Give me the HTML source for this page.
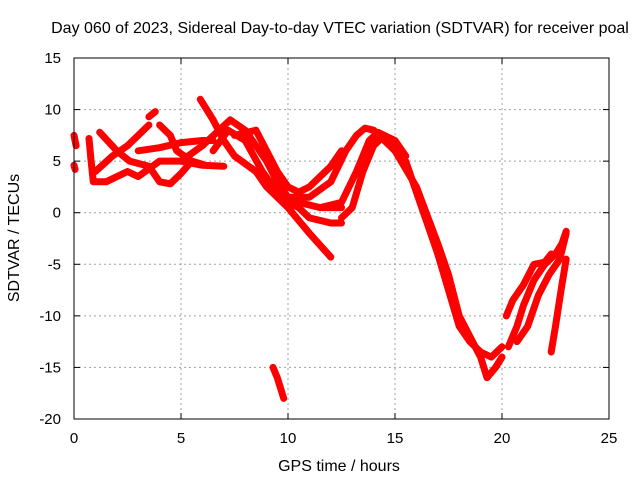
<!DOCTYPE html>
<html><head><meta charset="utf-8"><style>
body{margin:0;background:#fff}
svg{display:block;font-family:"Liberation Sans",sans-serif}
</style></head><body>
<svg width="640" height="480" xmlns="http://www.w3.org/2000/svg">
<rect width="640" height="480" fill="#fff"/>
<text x="340" y="33" font-size="16" text-anchor="middle">Day 060 of 2023, Sidereal Day-to-day VTEC variation (SDTVAR) for receiver poal</text>
<g id="grid"></g>
<g id="series"></g>
<rect x="74" y="58" width="535" height="361" fill="none" stroke="#000" stroke-width="1"/>
<g id="ticks"></g>
<text x="339" y="471" font-size="16" text-anchor="middle">GPS time / hours</text>
<text x="19" y="238" font-size="16" text-anchor="middle" transform="rotate(-90 19 238)">SDTVAR / TECUs</text>
</svg>
<script>
const xTicks=[0,5,10,15,20,25];
const yTicks=[15,10,5,0,-5,-10,-15,-20];
const trackF1=[[0,7.5],[0.1,6.5]];
const trackF1b=[[0,4.6],[0.05,4.2]];
const trackF2=[[0.7,7.2],[0.8,5],[0.9,3],[1.5,3],[2.5,4],[3,3.5],[4,5],[5,5],[6,4.6],[7,4.5]];
const trackF3=[[1.2,7.8],[2,6],[2.6,5],[3.5,4.5],[4,3],[4.5,2.8],[5,3.8],[5.5,5]];
const trackF4=[[1,4],[1.8,5.5],[2.5,6.5],[3,7.5],[3.5,8.5]];
const trackF5=[[3.5,9.3],[3.8,9.8]];
const trackF6=[[3,6],[4,6.3],[5,6.8],[6,7],[6.5,7]];
const trackF7=[[4,8.5],[4.5,7.5],[4.8,6],[5.5,5],[6,4.7]];
const trackP=[[5.9,11],[6.5,9],[7,7],[7.5,5.5],[8.5,4],[9,2.5],[9.5,1.5],[10,0.5],[11,-2],[12,-4.3]];
const trackQ=[[6.5,6],[7.2,8],[8,7],[8.8,4],[9.5,2],[10,1],[10.5,0.5],[11,-0.5],[12,-1],[12.5,-1]];
const trackR=[[5,5],[6,6.5],[7.3,9],[8,8],[9,5],[9.5,3],[10,1.5],[10.5,1],[11.5,0.5],[12.5,0.5]];
const trackS=[[7.5,7.5],[8.5,8],[9,6],[9.5,4],[10,2.5],[10.5,2],[11,2.5],[12,4.5],[12.5,6]];
const trackU=[[9.3,-15],[9.5,-16],[9.8,-18]];
const trackW1=[[10,1.5],[11,1.5],[12,3],[12.7,6],[13.2,7.5],[13.6,8.2],[14,8],[14.5,7],[15,6],[15.5,4.5]];
const trackW2=[[11.5,0.5],[12.5,1],[13.2,4],[13.8,7],[14.2,7.8],[14.5,7.5],[15,6.5],[15.5,5.5]];
const trackW3=[[12.5,-0.5],[13,0.5],[13.5,4],[14,6.5],[14.5,7.5],[15,7],[15.5,5.5]];
const trackD1=[[15.5,5],[16,2],[16.5,-1],[17,-4],[17.5,-7.5],[18,-11],[18.5,-12.5],[19,-13.5],[19.5,-14],[20,-13]];
const trackD2=[[15,6],[16,2.5],[17,-3],[17.5,-6],[18,-10],[18.5,-12],[19,-14],[19.3,-16],[19.7,-15],[20,-14]];
const trackE1=[[20.2,-10],[20.5,-8.5],[21,-7],[21.5,-5],[22,-4.8],[22.3,-4]];
const trackE2=[[20.3,-13],[20.7,-11],[21,-9],[21.5,-6.5],[22,-5],[22.5,-4],[22.8,-3],[23,-1.8]];
const trackE3=[[20.7,-12.5],[21.2,-11],[21.7,-8],[22.2,-6],[22.7,-4.5],[23,-2]];
const trackE4=[[22.3,-13.5],[22.5,-11],[22.8,-7],[23,-4.5]];
const tracks=[trackF1,trackF1b,trackF2,trackF3,trackF4,trackF5,trackF6,trackF7,trackP,trackQ,trackR,trackS,trackU,trackW1,trackW2,trackW3,trackD1,trackD2,trackE1,trackE2,trackE3,trackE4];

const NS="http://www.w3.org/2000/svg";
const X0=74,X1=609,Y0=419,Y1=58;
function xs(t){return X0+(t-0)/(25-0)*(X1-X0);}
function ys(v){return Y0-(v-(-20))/(15-(-20))*(Y0-Y1);}
function mk(tag,attrs,parent){const e=document.createElementNS(NS,tag);for(const k in attrs)e.setAttribute(k,attrs[k]);parent.appendChild(e);return e;}
const grid=document.getElementById('grid'),ticks=document.getElementById('ticks'),series=document.getElementById('series');
xTicks.forEach(t=>{
  const x=xs(t);
  if(t>0&&t<25){const g=mk('line',{x1:x,x2:x,y1:Y1,y2:Y0,stroke:'#a0a0a0','stroke-dasharray':'2,3'},grid);
  
  }
  const a=mk('line',{x1:x,x2:x,y1:Y0,y2:Y0-6,stroke:'#000'},ticks);
  
  
  const b=mk('line',{x1:x,x2:x,y1:Y1,y2:Y1+6,stroke:'#000'},ticks);
  
  
  const l=mk('text',{x:x,y:443,'font-size':15,'text-anchor':'middle'},ticks);
  l.textContent=t;
  
  
});
yTicks.forEach(v=>{
  const y=ys(v);
  if(v<15&&v>-20){const g=mk('line',{x1:X0,x2:X1,y1:y,y2:y,stroke:'#a0a0a0','stroke-dasharray':'2,3'},grid);
  
  }
  const a=mk('line',{x1:X0,x2:X0+6,y1:y,y2:y,stroke:'#000'},ticks);
  
  
  const b=mk('line',{x1:X1,x2:X1-6,y1:y,y2:y,stroke:'#000'},ticks);
  
  
  const l=mk('text',{x:61,y:y+5,'font-size':15,'text-anchor':'end'},ticks);
  l.textContent=v;
  
  
});
tracks.forEach(tr=>{
  const pts=tr.map(p=>xs(p[0]).toFixed(1)+','+ys(p[1]).toFixed(1)).join(' ');
  const pl=mk('polyline',{points:pts,fill:'none',stroke:'#ff0000','stroke-width':7,'stroke-linejoin':'round','stroke-linecap':'round'},series);
  
  
});
</script>
</body></html>
